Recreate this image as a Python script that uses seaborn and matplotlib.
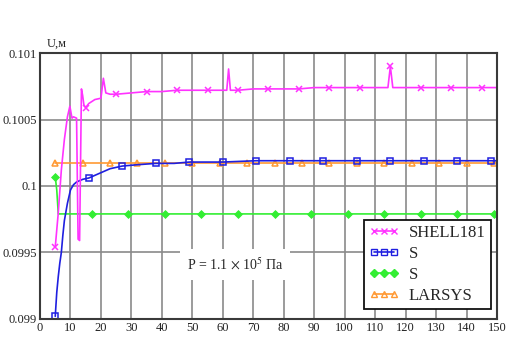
import numpy as np
import pandas as pd
import matplotlib
matplotlib.use("Agg")
import matplotlib.pyplot as plt
from matplotlib.lines import Line2D
import seaborn as sns

# Du lieu doc tu hinh
shell_x = [5, 6, 7, 8, 9, 9.8, 10.5, 11, 12, 12.5, 13, 13.6, 14, 14.4, 15, 16, 18, 20,
           20.8, 21.6, 23, 25, 30, 35, 40, 45, 50, 55, 60, 61.3, 61.9, 62.5, 64, 65,
           70, 75, 80, 85, 90, 95, 100, 105, 110, 114.2, 115, 115.8, 120, 125, 130,
           135, 140, 145, 150]
shell_y = [0.09954, 0.0998, 0.10012, 0.10035, 0.10052, 0.1006, 0.10051, 0.10052,
           0.10051, 0.0996, 0.09959, 0.10073, 0.10068, 0.10061, 0.10059, 0.10062,
           0.10065, 0.10066, 0.10081, 0.1007, 0.10069, 0.10069, 0.1007, 0.10071,
           0.10071, 0.10072, 0.10072, 0.10072, 0.10072, 0.10072, 0.10088, 0.10072,
           0.10072, 0.10072, 0.10073, 0.10073, 0.10073, 0.10073, 0.10074, 0.10074,
           0.10074, 0.10074, 0.10074, 0.10074, 0.1009, 0.10074, 0.10074, 0.10074,
           0.10074, 0.10074, 0.10074, 0.10074, 0.10074]
shell_marks = [5, 15, 25, 35, 45, 55, 65, 75, 85, 95, 105, 115, 125, 135, 145]

solid_x = [5, 5.5, 6, 6.5, 7, 7.5, 8, 9, 10, 11, 12, 14, 16, 18, 20, 23, 27, 32, 38,
           44, 49, 55, 60, 71, 82, 93, 104, 115, 126, 137, 148, 150]
solid_y = [0.09902, 0.0992, 0.09932, 0.09942, 0.0995, 0.09963, 0.09974, 0.09987,
           0.09997, 0.10001, 0.10003, 0.10005, 0.10006, 0.10008, 0.1001, 0.10013,
           0.10015, 0.10016, 0.10017, 0.10017, 0.10018, 0.10018, 0.10018, 0.10019,
           0.10019, 0.10019, 0.10019, 0.10019, 0.10019, 0.10019, 0.10019, 0.10019]
solid_marks = [5, 16, 27, 38, 49, 60, 71, 82, 93, 104, 115, 126, 137, 148]

green_x = [5, 5.5, 6, 17, 29, 41, 53, 65, 77, 89, 101, 113, 125, 137, 149, 150]
green_y = [0.10007, 0.09997, 0.09979] + [0.09979] * 13
green_marks = [5, 17, 29, 41, 53, 65, 77, 89, 101, 113, 125, 137, 149]

lar_x = [5, 14, 23, 32, 41, 50, 59, 68, 77, 86, 95, 104, 113, 122, 131, 140, 149, 150]
lar_y = [0.10017] * 18
lar_marks = [5, 14, 23, 32, 41, 50, 59, 68, 77, 86, 95, 104, 113, 122, 131, 140, 149]

labels = ["SHELL181", "S", "S", "LARSYS"]
colors = ["#ff33ff", "#1f1fe0", "#33ee33", "#ff9933"]
markers = ["x", "s", "D", "^"]

xticks = list(range(0, 151, 10))
yticks = [0.099, 0.0995, 0.1, 0.1005, 0.101]
ytick_labels = ["0.099", "0.0995", "0.1", "0.1005", "0.101"]

sns.set_style("white")
plt.rcParams["font.family"] = ["Liberation Serif", "DejaVu Serif"]
plt.rcParams["mathtext.fontset"] = "stix"

fig = plt.figure(figsize=(5.09, 3.40), dpi=100)
ax = fig.add_axes([0.0786, 0.0618, 0.8978, 0.7823])

series = [
    (lar_x, lar_y, lar_marks, 3),
    (green_x, green_y, green_marks, 2),
    (solid_x, solid_y, solid_marks, 1),
    (shell_x, shell_y, shell_marks, 0),
]
for xs, ys, marks, k in series:
    idx = [i for i, v in enumerate(xs) if v in marks]
    face = colors[k] if markers[k] == "D" else "none"
    sns.lineplot(x=xs, y=ys, ax=ax, sort=False, estimator=None, color=colors[k],
                 lw=1.2, marker=markers[k], markevery=idx, markersize=5 if k != 2 else 3.5,
                 markerfacecolor=face, markeredgecolor=colors[k], markeredgewidth=1.1)

ax.set_xlim(0, 150)
ax.set_ylim(0.099, 0.101)
ax.set_xticks(xticks)
ax.set_yticks(yticks)
ax.set_yticklabels(ytick_labels)
ax.tick_params(length=0, labelsize=9, pad=2, colors="#222222")
ax.grid(True, color="#8a8a8a", lw=1.2)
ax.set_axisbelow(True)
for s in ax.spines.values():
    s.set_color("#3a3a3a")
    s.set_linewidth(1.5)

fig.text(0.092, 0.87, "U,м", fontsize=9, ha="left", va="center")

ax.text(0.427, 0.205, r"P = 1.1 $\times$ 10$^{5}$ Па", transform=ax.transAxes,
        fontsize=10, ha="center", va="center",
        bbox=dict(facecolor="white", edgecolor="none", pad=5))

handles = [Line2D([0], [0], color=colors[k], marker=markers[k], markersize=4,
                  markerfacecolor=(colors[k] if markers[k] == "D" else "none"),
                  markeredgecolor=colors[k], lw=1.2) for k in range(4)]
leg = ax.legend(handles, labels, numpoints=3, loc="upper left",
                bbox_to_anchor=(0.715, 0.353), bbox_transform=fig.transFigure,
                borderaxespad=0, fancybox=False, framealpha=1, fontsize=12,
                handlelength=1.8, handletextpad=0.6, labelspacing=0.3,
                borderpad=0.3)
leg.get_frame().set_edgecolor("#111111")
leg.get_frame().set_linewidth(1.3)
leg.set_zorder(5)

fig.savefig("out.png", dpi=100)
